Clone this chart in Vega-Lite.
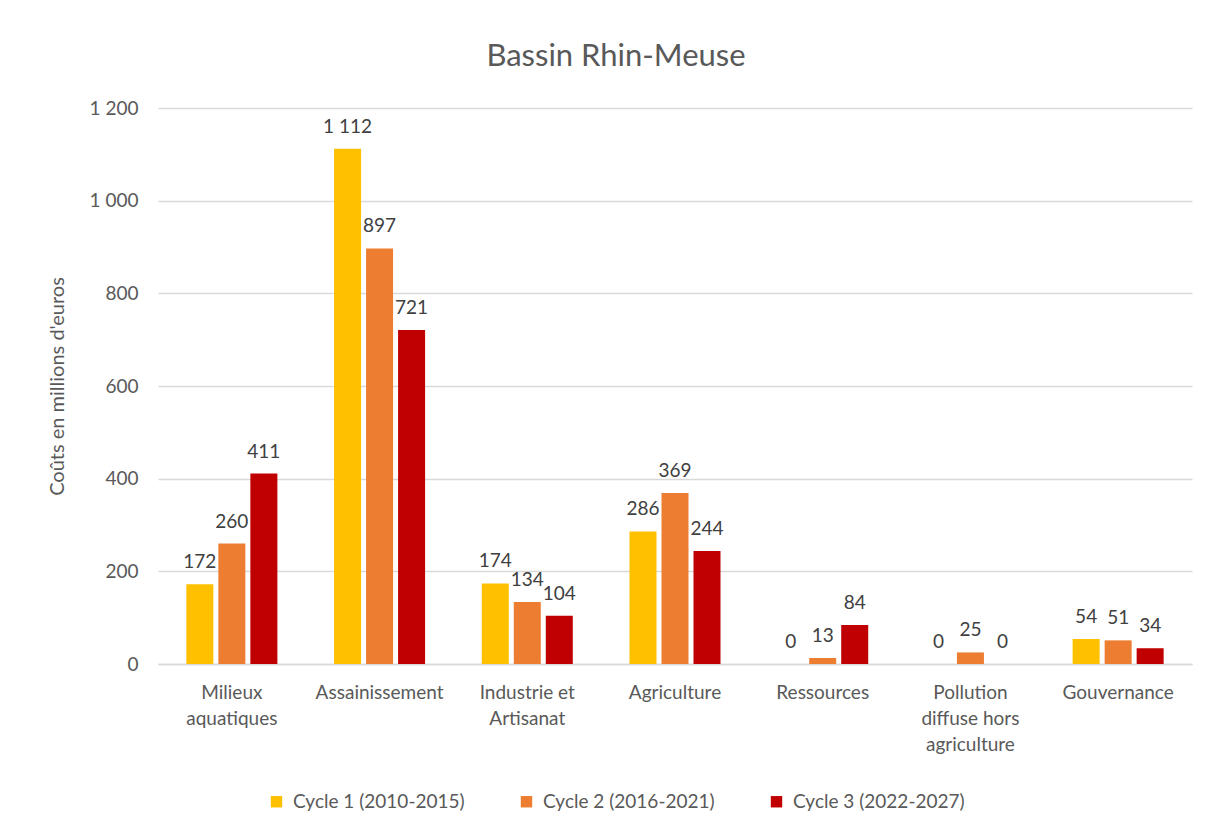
{
  "$schema": "https://vega.github.io/schema/vega-lite/v6.json",
  "width": 1034,
  "height": 556,
  "autosize": {"type": "none"},
  "padding": {"left": 158, "top": 108, "right": 13, "bottom": 167},
  "background": "white",
  "config": {
    "locale": {"number": {"decimal": ",", "thousands": " ", "grouping": [3], "currency": ["", " €"]}},
    "font": "Lato",
    "view": {"stroke": null}
  },
  "title": {
    "text": "Bassin Rhin-Meuse",
    "fontSize": 31,
    "fontWeight": "normal",
    "color": "#595959",
    "font": "Lato",
    "anchor": "middle",
    "dx": -59,
    "offset": 26
  },
  "data": {
    "values": [
      {"categorie": "Milieux aquatiques", "cycle": "Cycle 1 (2010-2015)", "cout": 172},
      {"categorie": "Milieux aquatiques", "cycle": "Cycle 2 (2016-2021)", "cout": 260},
      {"categorie": "Milieux aquatiques", "cycle": "Cycle 3 (2022-2027)", "cout": 411},
      {"categorie": "Assainissement", "cycle": "Cycle 1 (2010-2015)", "cout": 1112},
      {"categorie": "Assainissement", "cycle": "Cycle 2 (2016-2021)", "cout": 897},
      {"categorie": "Assainissement", "cycle": "Cycle 3 (2022-2027)", "cout": 721},
      {"categorie": "Industrie et Artisanat", "cycle": "Cycle 1 (2010-2015)", "cout": 174},
      {"categorie": "Industrie et Artisanat", "cycle": "Cycle 2 (2016-2021)", "cout": 134},
      {"categorie": "Industrie et Artisanat", "cycle": "Cycle 3 (2022-2027)", "cout": 104},
      {"categorie": "Agriculture", "cycle": "Cycle 1 (2010-2015)", "cout": 286},
      {"categorie": "Agriculture", "cycle": "Cycle 2 (2016-2021)", "cout": 369},
      {"categorie": "Agriculture", "cycle": "Cycle 3 (2022-2027)", "cout": 244},
      {"categorie": "Ressources", "cycle": "Cycle 1 (2010-2015)", "cout": 0},
      {"categorie": "Ressources", "cycle": "Cycle 2 (2016-2021)", "cout": 13},
      {"categorie": "Ressources", "cycle": "Cycle 3 (2022-2027)", "cout": 84},
      {"categorie": "Pollution diffuse hors agriculture", "cycle": "Cycle 1 (2010-2015)", "cout": 0},
      {"categorie": "Pollution diffuse hors agriculture", "cycle": "Cycle 2 (2016-2021)", "cout": 25},
      {"categorie": "Pollution diffuse hors agriculture", "cycle": "Cycle 3 (2022-2027)", "cout": 0},
      {"categorie": "Gouvernance", "cycle": "Cycle 1 (2010-2015)", "cout": 54},
      {"categorie": "Gouvernance", "cycle": "Cycle 2 (2016-2021)", "cout": 51},
      {"categorie": "Gouvernance", "cycle": "Cycle 3 (2022-2027)", "cout": 34}
    ]
  },
  "encoding": {
    "x": {
      "field": "categorie",
      "type": "nominal",
      "sort": null,
      "scale": {"paddingInner": 0.35, "paddingOuter": 0.175},
      "axis": {
        "title": null,
        "labelAngle": 0,
        "labelFontSize": 19,
        "labelColor": "#595959",
        "labelPadding": 19,
        "labelLineHeight": 26,
        "labelBaseline": "top",
        "ticks": false,
        "domainColor": "#d9d9d9",
        "domainWidth": 1.5,
        "labelLimit": 200,
        "labelExpr": "datum.value == 'Milieux aquatiques' ? ['Milieux', 'aquatiques'] : datum.value == 'Industrie et Artisanat' ? ['Industrie et', 'Artisanat'] : datum.value == 'Pollution diffuse hors agriculture' ? ['Pollution', 'diffuse hors', 'agriculture'] : datum.value"
      }
    },
    "xOffset": {
      "field": "cycle",
      "type": "nominal",
      "scale": {"paddingInner": 0.156, "paddingOuter": 0.078}
    },
    "y": {
      "field": "cout",
      "type": "quantitative",
      "scale": {"domain": [0, 1200]},
      "axis": {
        "title": "Coûts en millions d'euros",
        "titleFontSize": 20,
        "titleFontWeight": "normal",
        "titleColor": "#595959",
        "titlePadding": 22,
        "values": [0, 200, 400, 600, 800, 1000, 1200],
        "format": ",d",
        "labelFontSize": 19,
        "labelColor": "#595959",
        "labelPadding": 20,
        "ticks": false,
        "domain": false,
        "gridColor": "#d9d9d9",
        "gridWidth": 1.5
      }
    }
  },
  "layer": [
    {
      "mark": {"type": "bar"},
      "encoding": {
        "color": {
          "field": "cycle",
          "type": "nominal",
          "scale": {"range": ["#FFC000", "#ED7D31", "#C00000"]},
          "legend": {
            "title": null,
            "orient": "none",
            "direction": "horizontal",
            "legendX": 109,
            "legendY": 684,
            "symbolType": "square",
            "symbolSize": 130,
            "symbolStrokeWidth": 0,
            "labelFontSize": 19,
            "labelColor": "#595959",
            "labelOffset": 7,
            "columnPadding": 52,
            "labelLimit": 300
          }
        }
      }
    },
    {
      "mark": {"type": "text", "baseline": "bottom", "dy": -12, "fontSize": 19, "color": "#404040"},
      "encoding": {
        "text": {"field": "cout", "type": "quantitative", "format": ",d"}
      }
    }
  ]
}
